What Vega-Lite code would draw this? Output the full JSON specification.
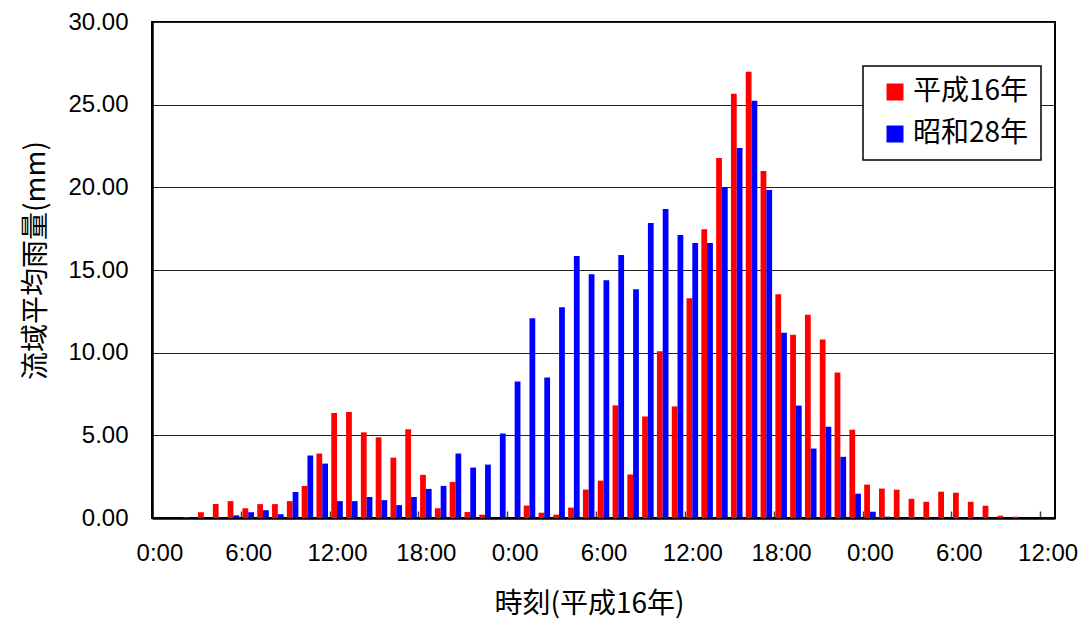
{
  "$schema": "https://vega.github.io/schema/vega-lite/v6.json",
  "width": 903,
  "height": 496,
  "autosize": {"type": "none"},
  "padding": {"left": 152, "top": 22, "right": 32, "bottom": 107},
  "background": "white",
  "config": {
    "font": "Liberation Sans",
    "view": {"stroke": "#000000", "strokeWidth": 2},
    "legend": {"strokeWidth": 1.5}
  },
  "data": {
    "values": [
      {"hour":0,"series":"平成16年","rain":0},{"hour":0,"series":"昭和28年","rain":0},
      {"hour":1,"series":"平成16年","rain":0},{"hour":1,"series":"昭和28年","rain":0},
      {"hour":2,"series":"平成16年","rain":0.05},{"hour":2,"series":"昭和28年","rain":0},
      {"hour":3,"series":"平成16年","rain":0.35},{"hour":3,"series":"昭和28年","rain":0},
      {"hour":4,"series":"平成16年","rain":0.85},{"hour":4,"series":"昭和28年","rain":0.03},
      {"hour":5,"series":"平成16年","rain":1.02},{"hour":5,"series":"昭和28年","rain":0.16},
      {"hour":6,"series":"平成16年","rain":0.59},{"hour":6,"series":"昭和28年","rain":0.35},
      {"hour":7,"series":"平成16年","rain":0.84},{"hour":7,"series":"昭和28年","rain":0.47},
      {"hour":8,"series":"平成16年","rain":0.84},{"hour":8,"series":"昭和28年","rain":0.22},
      {"hour":9,"series":"平成16年","rain":1.02},{"hour":9,"series":"昭和28年","rain":1.57},
      {"hour":10,"series":"平成16年","rain":1.94},{"hour":10,"series":"昭和28年","rain":3.78},
      {"hour":11,"series":"平成16年","rain":3.9},{"hour":11,"series":"昭和28年","rain":3.29},
      {"hour":12,"series":"平成16年","rain":6.35},{"hour":12,"series":"昭和28年","rain":1.02},
      {"hour":13,"series":"平成16年","rain":6.41},{"hour":13,"series":"昭和28年","rain":1.02},
      {"hour":14,"series":"平成16年","rain":5.18},{"hour":14,"series":"昭和28年","rain":1.27},
      {"hour":15,"series":"平成16年","rain":4.88},{"hour":15,"series":"昭和28年","rain":1.08},
      {"hour":16,"series":"平成16年","rain":3.65},{"hour":16,"series":"昭和28年","rain":0.78},
      {"hour":17,"series":"平成16年","rain":5.37},{"hour":17,"series":"昭和28年","rain":1.27},
      {"hour":18,"series":"平成16年","rain":2.61},{"hour":18,"series":"昭和28年","rain":1.76},
      {"hour":19,"series":"平成16年","rain":0.59},{"hour":19,"series":"昭和28年","rain":1.94},
      {"hour":20,"series":"平成16年","rain":2.18},{"hour":20,"series":"昭和28年","rain":3.9},
      {"hour":21,"series":"平成16年","rain":0.36},{"hour":21,"series":"昭和28年","rain":3.05},
      {"hour":22,"series":"平成16年","rain":0.2},{"hour":22,"series":"昭和28年","rain":3.23},
      {"hour":23,"series":"平成16年","rain":0},{"hour":23,"series":"昭和28年","rain":5.11},
      {"hour":24,"series":"平成16年","rain":0},{"hour":24,"series":"昭和28年","rain":8.26},
      {"hour":25,"series":"平成16年","rain":0.75},{"hour":25,"series":"昭和28年","rain":12.08},
      {"hour":26,"series":"平成16年","rain":0.32},{"hour":26,"series":"昭和28年","rain":8.5},
      {"hour":27,"series":"平成16年","rain":0.2},{"hour":27,"series":"昭和28年","rain":12.75},
      {"hour":28,"series":"平成16年","rain":0.63},{"hour":28,"series":"昭和28年","rain":15.84},
      {"hour":29,"series":"平成16年","rain":1.72},{"hour":29,"series":"昭和28年","rain":14.75},
      {"hour":30,"series":"平成16年","rain":2.26},{"hour":30,"series":"昭和28年","rain":14.38},
      {"hour":31,"series":"平成16年","rain":6.81},{"hour":31,"series":"昭和28年","rain":15.9},
      {"hour":32,"series":"平成16年","rain":2.63},{"hour":32,"series":"昭和28年","rain":13.84},
      {"hour":33,"series":"平成16年","rain":6.14},{"hour":33,"series":"昭和28年","rain":17.84},
      {"hour":34,"series":"平成16年","rain":10.08},{"hour":34,"series":"昭和28年","rain":18.69},
      {"hour":35,"series":"平成16年","rain":6.75},{"hour":35,"series":"昭和28年","rain":17.11},
      {"hour":36,"series":"平成16年","rain":13.29},{"hour":36,"series":"昭和28年","rain":16.63},
      {"hour":37,"series":"平成16年","rain":17.47},{"hour":37,"series":"昭和28年","rain":16.63},
      {"hour":38,"series":"平成16年","rain":21.78},{"hour":38,"series":"昭和28年","rain":20.02},
      {"hour":39,"series":"平成16年","rain":25.66},{"hour":39,"series":"昭和28年","rain":22.38},
      {"hour":40,"series":"平成16年","rain":26.99},{"hour":40,"series":"昭和28年","rain":25.23},
      {"hour":41,"series":"平成16年","rain":20.99},{"hour":41,"series":"昭和28年","rain":19.84},
      {"hour":42,"series":"平成16年","rain":13.54},{"hour":42,"series":"昭和28年","rain":11.2},
      {"hour":43,"series":"平成16年","rain":11.08},{"hour":43,"series":"昭和28年","rain":6.8},
      {"hour":44,"series":"平成16年","rain":12.3},{"hour":44,"series":"昭和28年","rain":4.2},
      {"hour":45,"series":"平成16年","rain":10.8},{"hour":45,"series":"昭和28年","rain":5.52},
      {"hour":46,"series":"平成16年","rain":8.8},{"hour":46,"series":"昭和28年","rain":3.7},
      {"hour":47,"series":"平成16年","rain":5.34},{"hour":47,"series":"昭和28年","rain":1.47},
      {"hour":48,"series":"平成16年","rain":2.02},{"hour":48,"series":"昭和28年","rain":0.38},
      {"hour":49,"series":"平成16年","rain":1.78},{"hour":49,"series":"昭和28年","rain":0.08},
      {"hour":50,"series":"平成16年","rain":1.71},{"hour":50,"series":"昭和28年","rain":0},
      {"hour":51,"series":"平成16年","rain":1.16},{"hour":51,"series":"昭和28年","rain":0},
      {"hour":52,"series":"平成16年","rain":0.98},{"hour":52,"series":"昭和28年","rain":0},
      {"hour":53,"series":"平成16年","rain":1.59},{"hour":53,"series":"昭和28年","rain":0},
      {"hour":54,"series":"平成16年","rain":1.53},{"hour":54,"series":"昭和28年","rain":0},
      {"hour":55,"series":"平成16年","rain":0.98},{"hour":55,"series":"昭和28年","rain":0},
      {"hour":56,"series":"平成16年","rain":0.74},{"hour":56,"series":"昭和28年","rain":0},
      {"hour":57,"series":"平成16年","rain":0.14},{"hour":57,"series":"昭和28年","rain":0},
      {"hour":58,"series":"平成16年","rain":0.08},{"hour":58,"series":"昭和28年","rain":0},
      {"hour":59,"series":"平成16年","rain":0},{"hour":59,"series":"昭和28年","rain":0},
      {"hour":60,"series":"平成16年","rain":0},{"hour":60,"series":"昭和28年","rain":0}
    ]
  },
  "mark": {"type": "bar"},
  "encoding": {
    "x": {
      "field": "hour",
      "type": "ordinal",
      "scale": {"paddingInner": 0.22, "paddingOuter": 0.11},
      "axis": {
        "values": [0, 6, 12, 18, 24, 30, 36, 42, 48, 54, 60],
        "labelExpr": "(datum.value % 24) + ':00'",
        "labelAngle": 0,
        "labelFontSize": 24,
        "labelColor": "#000000",
        "labelPadding": 30,
        "labelOffset": 7.4,
        "ticks": true,
        "tickSize": -7,
        "tickOffset": -7.4,
        "tickColor": "#444444",
        "tickWidth": 1.5,
        "domainColor": "#000000",
        "domainWidth": 2.5,
        "title": "時刻(平成16年)",
        "titleFont": "Noto Sans CJK JP",
        "titleFontSize": 28,
        "titleFontWeight": "normal",
        "titleColor": "#000000",
        "titleX": 437,
        "titleY": 86,
        "titleAlign": "center",
        "titleBaseline": "middle"
      }
    },
    "xOffset": {
      "field": "series",
      "type": "nominal",
      "sort": ["平成16年", "昭和28年"],
      "scale": {"paddingInner": 0, "paddingOuter": 0}
    },
    "y": {
      "field": "rain",
      "type": "quantitative",
      "scale": {"domain": [0, 30], "nice": false},
      "axis": {
        "values": [0, 5, 10, 15, 20, 25, 30],
        "format": ".2f",
        "labelFontSize": 24,
        "labelColor": "#000000",
        "labelPadding": 24,
        "tickSize": 0,
        "grid": true,
        "gridColor": "#222222",
        "gridWidth": 1,
        "domainColor": "#000000",
        "domainWidth": 2.5,
        "title": "流域平均雨量(mm)",
        "titleFont": "Noto Sans CJK JP",
        "titleFontSize": 28,
        "titleFontWeight": "normal",
        "titleColor": "#000000",
        "titleAngle": -90,
        "titleX": -116,
        "titleY": 238,
        "titleAlign": "center",
        "titleBaseline": "middle"
      }
    },
    "color": {
      "field": "series",
      "type": "nominal",
      "scale": {"domain": ["平成16年", "昭和28年"], "range": ["#ff0000", "#0000ff"]},
      "legend": {
        "title": null,
        "orient": "none",
        "legendX": 711,
        "legendY": 44,
        "padding": 12,
        "symbolOffset": 6,
        "symbolType": "square",
        "symbolSize": 289,
        "symbolStrokeWidth": 0,
        "labelFont": "Noto Sans CJK JP",
        "labelFontSize": 28,
        "labelColor": "#000000",
        "labelOffset": 4,
        "rowPadding": 14,
        "strokeColor": "#000000",
        "fillColor": "#ffffff"
      }
    }
  }
}
